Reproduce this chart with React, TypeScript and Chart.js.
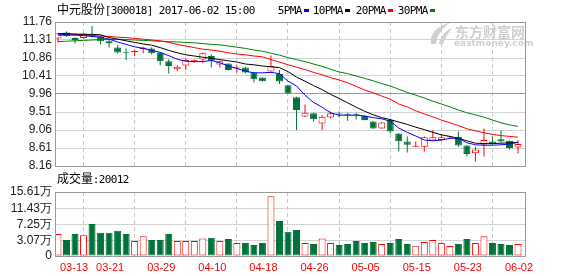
import React, { useEffect, useRef } from "react";
import { Chart, registerables } from "chart.js";

Chart.register(...registerables);

// ---------------- data ----------------
const dates = [
  "03-13", "03-14", "03-15", "03-16", "03-17", "03-20", "03-21", "03-22", "03-23", "03-24",
  "03-27", "03-28", "03-29", "03-30", "03-31", "04-05", "04-06", "04-07", "04-10", "04-11",
  "04-12", "04-13", "04-14", "04-17", "04-18", "04-19", "04-20", "04-21", "04-24", "04-25",
  "04-26", "04-27", "04-28", "05-02", "05-03", "05-04", "05-05", "05-08", "05-09", "05-10",
  "05-11", "05-12", "05-15", "05-16", "05-17", "05-18", "05-19", "05-22", "05-23", "05-24",
  "05-25", "05-26", "05-31", "06-01", "06-02",
];

const openP = [
  11.35, 11.50, 11.36, 11.36, 11.45, 11.39, 11.28, 11.12, 10.99, 11.01,
  11.08, 11.10, 11.00, 10.78, 10.58, 10.67, 10.78, 10.82, 10.91, 10.70,
  10.72, 10.60, 10.62, 10.50, 10.37, 10.52, 10.46, 10.18, 9.88, 9.40,
  9.48, 9.22, 9.37, 9.46, 9.44, 9.44, 9.41, 9.27, 9.10, 9.31,
  8.97, 8.77, 8.64, 8.64, 8.80, 8.81, 8.87, 8.89, 8.67, 8.48,
  8.70, 8.77, 8.83, 8.79, 8.62,
];
const highP = [
  11.48, 11.52, 11.38, 11.48, 11.66, 11.41, 11.35, 11.18, 11.10, 11.07,
  11.14, 11.13, 11.01, 10.83, 10.68, 10.85, 10.82, 11.00, 10.95, 10.79,
  10.73, 10.67, 10.64, 10.51, 10.38, 10.92, 10.56, 10.19, 9.89, 9.70,
  9.49, 9.43, 9.52, 9.52, 9.49, 9.49, 9.42, 9.28, 9.26, 9.35,
  8.98, 8.90, 8.77, 8.90, 9.06, 8.94, 8.91, 9.02, 8.68, 8.65,
  9.10, 8.90, 9.05, 8.80, 8.81,
];
const lowP = [
  11.25, 11.39, 11.22, 11.34, 11.38, 11.20, 11.12, 10.97, 10.81, 10.91,
  10.98, 10.95, 10.68, 10.47, 10.53, 10.56, 10.74, 10.74, 10.62, 10.62,
  10.55, 10.50, 10.48, 10.25, 10.27, 10.52, 10.21, 9.96, 9.06, 9.38,
  9.27, 9.06, 9.35, 9.37, 9.29, 9.32, 9.30, 9.09, 9.09, 8.98,
  8.52, 8.50, 8.63, 8.52, 8.79, 8.79, 8.85, 8.64, 8.40, 8.27,
  8.40, 8.69, 8.75, 8.57, 8.47,
];
const closeP = [
  11.47, 11.41, 11.31, 11.47, 11.41, 11.28, 11.23, 11.00, 10.98, 11.02,
  11.12, 10.98, 10.78, 10.66, 10.64, 10.81, 10.79, 10.98, 10.79, 10.78,
  10.56, 10.61, 10.50, 10.33, 10.28, 10.66, 10.27, 9.97, 9.56, 9.49,
  9.33, 9.39, 9.48, 9.45, 9.43, 9.43, 9.31, 9.10, 9.25, 9.02,
  8.78, 8.69, 8.65, 8.88, 8.88, 8.88, 8.88, 8.67, 8.46, 8.57,
  8.81, 8.71, 8.77, 8.61, 8.71,
];

// volume in 万
const volume = [
  4.85, 3.30, 4.85, 4.52, 7.39, 5.18, 5.18, 5.69, 4.85, 3.07,
  4.26, 3.30, 3.30, 4.85, 3.07, 3.07, 3.07, 3.73, 3.90, 3.07,
  3.57, 2.56, 2.56, 2.05, 2.56, 14.52, 8.16, 5.43, 5.86, 2.56,
  2.30, 3.73, 2.56, 2.05, 2.30, 3.07, 2.56, 2.81, 2.30, 2.56,
  3.57, 2.30, 1.87, 2.81, 3.30, 2.56, 1.78, 2.30, 3.57, 2.56,
  4.26, 2.56, 2.30, 2.05, 2.30,
];

const ma5 = [
  11.46, 11.44, 11.43, 11.42, 11.40, 11.38, 11.33, 11.26, 11.20, 11.14,
  11.10, 11.05, 11.00, 10.92, 10.83, 10.78, 10.77, 10.77, 10.80, 10.74,
  10.66, 10.60, 10.53, 10.49, 10.49, 10.50, 10.47, 10.28, 10.16, 9.93,
  9.75, 9.63, 9.49, 9.43, 9.43, 9.43, 9.41, 9.37, 9.34, 9.28,
  9.11, 9.00, 8.91, 8.81, 8.79, 8.81, 8.85, 8.86, 8.74, 8.69,
  8.68, 8.68, 8.69, 8.71, 8.75,
];
const ma10 = [
  11.47, 11.47, 11.46, 11.45, 11.45, 11.44, 11.37, 11.33, 11.29, 11.25,
  11.21, 11.18, 11.12, 11.05, 10.99, 10.94, 10.91, 10.88, 10.85, 10.82,
  10.79, 10.76, 10.71, 10.69, 10.66, 10.64, 10.62, 10.52, 10.38, 10.28,
  10.17, 10.07, 9.95, 9.85, 9.74, 9.63, 9.53, 9.44, 9.37, 9.32,
  9.26, 9.20, 9.13, 9.07, 9.00, 8.94, 8.90, 8.85, 8.79, 8.73,
  8.72, 8.72, 8.73, 8.74, 8.75,
];
const ma20 = [
  11.42, 11.44, 11.45, 11.43, 11.42, 11.41, 11.40, 11.38, 11.37, 11.35,
  11.33, 11.31, 11.29, 11.25, 11.20, 11.16, 11.12, 11.08, 11.06, 11.03,
  10.99, 10.96, 10.94, 10.91, 10.89, 10.82, 10.76, 10.69, 10.63, 10.57,
  10.50, 10.44, 10.37, 10.31, 10.24, 10.15, 10.06, 9.99, 9.91, 9.83,
  9.71, 9.64, 9.54, 9.46, 9.39, 9.31, 9.24, 9.17, 9.09, 9.04,
  8.99, 8.95, 8.92, 8.90, 8.88,
];
const ma30 = [
  11.27, 11.28, 11.29, 11.30, 11.31, 11.32, 11.32, 11.33, 11.32, 11.31,
  11.30, 11.29, 11.28, 11.27, 11.26, 11.25, 11.24, 11.22, 11.20, 11.19,
  11.16, 11.13, 11.10, 11.06, 11.03, 10.98, 10.93, 10.87, 10.82, 10.77,
  10.71, 10.65, 10.58, 10.51, 10.47, 10.41, 10.35, 10.29, 10.22, 10.16,
  10.08, 10.00, 9.93, 9.86, 9.78, 9.71, 9.64, 9.56, 9.49, 9.44,
  9.38, 9.31, 9.24, 9.19, 9.15,
];

const priceTicks = [8.16, 8.61, 9.06, 9.51, 9.96, 10.41, 10.86, 11.31, 11.76];
const priceMid = 9.96;
const volTicks = [3.07, 7.25, 11.43, 15.61];
const volAxisMin = -0.77;
const xTickStep = 6;

const titleText = "中元股份[300018] 2017-06-02 15:00";
const volTitle = "成交量:20012";
const legendLabels = ["5PMA", "10PMA", "20PMA", "30PMA"];
const legendColors = ["#0000ff", "#000000", "#ff0000", "#008000"];

// ---------------- style ----------------
const W = 578;
const H = 276;
const RED = "#ff0000";
const GREEN = "#00733a";
const GRID = "#d3d3d3";
const FRAME = "#9a9a9a";
const X_MIN = -0.35;
const X_MAX = 54.82;

const idx = dates.map((_, i) => i);
const up = (i: number) => closeP[i] >= openP[i];
const xTickIdx = idx.filter((i) => i % xTickStep === 0);

function drawMono(ctx: CanvasRenderingContext2D, text: string, x: number, baseline: number, color: string) {
  let cx = x;
  ctx.fillStyle = color;
  ctx.textAlign = "center";
  ctx.textBaseline = "alphabetic";
  for (const ch of Array.from(text)) {
    const wide = /[\u3000-\u9fff\uff00-\uffef]/.test(ch);
    const adv = wide ? 12 : 6;
    ctx.font = wide ? '12px "Noto Sans CJK SC"' : '11px "DejaVu Sans Mono"';
    if (ch !== " ") ctx.fillText(ch, cx + adv / 2, baseline);
    cx += adv;
  }
  return cx;
}

function strokeFrame(chart: any) {
  const { left, top, right, bottom } = chart.chartArea;
  const ctx = chart.ctx;
  ctx.save();
  ctx.strokeStyle = FRAME;
  ctx.lineWidth = 1;
  ctx.strokeRect(Math.round(left) + 0.5, Math.round(top) + 0.5, Math.round(right - left), Math.round(bottom - top));
  ctx.restore();
}

const pricePlugin = {
  id: "pricePanel",
  beforeDatasetsDraw(chart: any) {
    const ctx = chart.ctx;
    ctx.save();
    ctx.fillStyle = "#d0d0d0";
    // logo swoosh
    ctx.beginPath();
    ctx.moveTo(431, 44);
    ctx.bezierCurveTo(429, 34, 437, 26, 451, 22);
    ctx.bezierCurveTo(442, 28, 437, 35, 436, 44);
    ctx.closePath();
    ctx.fill();
    ctx.beginPath();
    ctx.moveTo(439, 44);
    ctx.bezierCurveTo(440, 37, 445, 31, 452, 28);
    ctx.bezierCurveTo(448, 33, 445, 38, 443, 44);
    ctx.closePath();
    ctx.fill();
    ctx.font = 'bold 14px "Noto Sans CJK SC"';
    ctx.textAlign = "left";
    ctx.textBaseline = "alphabetic";
    ctx.fillText("东方财富网", 455, 37);
    ctx.font = 'bold 9px "DejaVu Sans"';
    ctx.fillText("eastmoney.com", 454, 46);
    ctx.restore();
  },
  afterDraw(chart: any) {
    const ctx = chart.ctx;
    strokeFrame(chart);
    ctx.save();
    drawMono(ctx, titleText, 57, 14, "#000");
    const starts = [278, 313, 356, 398];
    legendLabels.forEach((lab, k) => {
      const end = drawMono(ctx, lab, starts[k], 14, "#000");
      ctx.fillStyle = legendColors[k];
      ctx.fillRect(Math.round(end) + 2, 9, 5, 3);
    });
    ctx.restore();
  },
};

const volPlugin = {
  id: "volPanel",
  afterDraw(chart: any) {
    const ctx = chart.ctx;
    strokeFrame(chart);
    ctx.save();
    drawMono(ctx, volTitle, 57, 183, "#000");
    const xs = chart.scales.x;
    ctx.fillStyle = RED;
    ctx.font = '11px "Liberation Sans"';
    ctx.textBaseline = "alphabetic";
    xTickIdx.forEach((i, k) => {
      const px = xs.getPixelForValue(i);
      if (k === 0) {
        ctx.textAlign = "left";
        ctx.fillText(dates[i], px + 2, 271);
      } else {
        ctx.textAlign = "center";
        ctx.fillText(dates[i], px + 1, 271);
      }
    });
    ctx.restore();
  },
};

function xAxis() {
  return {
    type: "linear",
    min: X_MIN,
    max: X_MAX,
    offset: false,
    afterBuildTicks: (s: any) => {
      s.ticks = xTickIdx.map((v) => ({ value: v }));
    },
    afterFit: (s: any) => {
      s.height = 0;
    },
    ticks: { display: false },
    grid: { color: "#c8c8c8", drawTicks: false, lineWidth: 1 },
    border: { display: false, dash: [4, 3] },
  };
}

const tickFont = { family: '"Liberation Sans", Arial, sans-serif', size: 12 };

export default function App() {
  const priceRef = useRef<HTMLCanvasElement>(null);
  const volRef = useRef<HTMLCanvasElement>(null);

  useEffect(() => {
    const lineDs = (data: number[], color: string, label: string) => ({
      type: "line",
      label,
      data: data.map((v, i) => ({ x: i, y: v })),
      borderColor: color,
      borderWidth: 1,
      pointRadius: 0,
      tension: 0,
      fill: false,
      order: 0,
    });

    const priceChart = new Chart(priceRef.current as HTMLCanvasElement, {
      type: "bar",
      data: {
        datasets: [
          lineDs(ma5, legendColors[0], "MA5"),
          lineDs(ma10, legendColors[1], "MA10"),
          lineDs(ma20, legendColors[2], "MA20"),
          lineDs(ma30, legendColors[3], "MA30"),
          {
            type: "bar",
            label: "body",
            data: idx.map((i) => ({ x: i, y: [openP[i], closeP[i]] })),
            backgroundColor: idx.map((i) => (up(i) ? "#ffffff" : GREEN)),
            borderColor: idx.map((i) => (up(i) ? RED : GREEN)),
            borderWidth: 1,
            borderSkipped: false,
            barThickness: 7,
            minBarLength: 1,
            grouped: false,
            inflateAmount: 0,
            order: 1,
          },
          {
            type: "bar",
            label: "wick",
            data: idx.map((i) => ({ x: i, y: [lowP[i], highP[i]] })),
            backgroundColor: idx.map((i) => (up(i) ? RED : GREEN)),
            borderWidth: 0,
            barThickness: 1,
            grouped: false,
            inflateAmount: 0,
            order: 2,
          },
        ] as any,
      },
      options: {
        responsive: false,
        animation: false,
        devicePixelRatio: 1,
        events: [],
        layout: { padding: { left: 0, right: 53, top: 22, bottom: 110 } },
        plugins: { legend: { display: false }, tooltip: { enabled: false } },
        scales: {
          x: xAxis() as any,
          y: {
            type: "linear",
            position: "left",
            min: priceTicks[0],
            max: priceTicks[priceTicks.length - 1],
            afterBuildTicks: (s: any) => {
              s.ticks = priceTicks.map((v) => ({ value: v }));
            },
            afterFit: (s: any) => {
              s.width = 55;
            },
            ticks: {
              autoSkip: false,
              padding: 3,
              color: "#222",
              font: tickFont,
              callback: (v: any) => Number(v).toFixed(2),
            },
            grid: {
              drawTicks: false,
              color: (c: any) => (c.tick && Math.abs(c.tick.value - priceMid) < 1e-6 ? "#999999" : GRID),
            },
            border: { display: false },
          },
        },
      } as any,
      plugins: [pricePlugin],
    });

    const volChart = new Chart(volRef.current as HTMLCanvasElement, {
      type: "bar",
      data: {
        datasets: [
          {
            label: "成交量",
            data: idx.map((i) => ({ x: i, y: volume[i] })),
            base: volAxisMin,
            backgroundColor: idx.map((i) => (up(i) ? "#ffffff" : GREEN)),
            borderColor: idx.map((i) => (up(i) ? RED : GREEN)),
            borderWidth: 1,
            borderSkipped: false,
            barThickness: 7,
            grouped: false,
            inflateAmount: 0,
          },
        ] as any,
      },
      options: {
        responsive: false,
        animation: false,
        devicePixelRatio: 1,
        events: [],
        layout: { padding: { left: 0, right: 53, top: 192, bottom: 20 } },
        plugins: { legend: { display: false }, tooltip: { enabled: false } },
        scales: {
          x: xAxis() as any,
          y: {
            type: "linear",
            position: "left",
            min: volAxisMin,
            max: volTicks[volTicks.length - 1],
            afterBuildTicks: (s: any) => {
              s.ticks = [volAxisMin, ...volTicks].map((v) => ({ value: v }));
            },
            afterFit: (s: any) => {
              s.width = 55;
            },
            ticks: {
              autoSkip: false,
              padding: 3,
              color: "#222",
              font: tickFont,
              callback: (v: any) => (Number(v) <= 0 ? "0" : Number(v).toFixed(2) + "万"),
            },
            grid: { drawTicks: false, color: GRID },
            border: { display: false },
          },
        },
      } as any,
      plugins: [volPlugin],
    });

    return () => {
      priceChart.destroy();
      volChart.destroy();
    };
  }, []);

  return (
    <div style={{ position: "fixed", left: 0, top: 0, width: W, height: H, background: "#fff", overflow: "hidden" }}>
      <canvas ref={priceRef} width={W} height={H} style={{ position: "absolute", left: 0, top: 0, width: W, height: H }} />
      <canvas ref={volRef} width={W} height={H} style={{ position: "absolute", left: 0, top: 0, width: W, height: H }} />
    </div>
  );
}
